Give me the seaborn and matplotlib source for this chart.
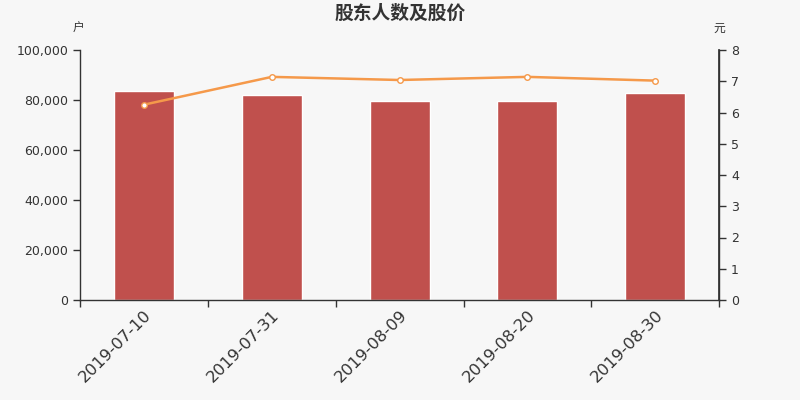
import matplotlib
matplotlib.use("Agg")
import matplotlib.pyplot as plt
import seaborn as sns
import pandas as pd
from matplotlib.ticker import FuncFormatter, FixedLocator

dates = ["2019-07-10", "2019-07-31", "2019-08-09", "2019-08-20", "2019-08-30"]
holders = [83600, 82100, 79600, 79450, 82800]
prices = [6.25, 7.14, 7.04, 7.14, 7.02]

bg = "#f7f7f7"
sns.set_theme(style="white")
plt.rcParams["font.family"] = ["DejaVu Sans", "Noto Sans CJK SC"]

fig = plt.figure(figsize=(8, 4), dpi=100, facecolor=bg)
ax = fig.add_axes([0.1, 0.25, 0.799, 0.625])
ax.set_facecolor(bg)

df = pd.DataFrame({"date": dates, "holders": holders, "price": prices})
sns.barplot(data=df, x="date", y="holders", color="#c0504d", saturation=1,
            width=0.47, ax=ax)
ax.set_ylim(0, 100000)
ax.set_xlim(-0.5, len(dates) - 0.5)
ax.set_yticks([0, 20000, 40000, 60000, 80000, 100000])
ax.yaxis.set_major_formatter(FuncFormatter(lambda v, p: f"{int(v):,}"))
ax.set_xlabel("")
ax.set_ylabel("")

ax.spines["top"].set_visible(False)
for s in ["left", "bottom", "right"]:
    ax.spines[s].set_color("#333333")
    ax.spines[s].set_linewidth(1)

ax.tick_params(axis="y", which="major", length=5, width=1, color="#333333",
               labelsize=9, labelcolor="#333333", left=True, direction="out")
ax.tick_params(axis="x", which="major", length=0, labelsize=11.8,
               labelcolor="#333333", pad=5)
ax.xaxis.set_minor_locator(FixedLocator([i - 0.5 for i in range(len(dates) + 1)]))
ax.tick_params(axis="x", which="minor", length=5, width=1, color="#333333",
               bottom=True, direction="out")
plt.setp(ax.get_xticklabels(), rotation=45, ha="right", rotation_mode="anchor")

ax2 = ax.twinx()
sns.lineplot(data=df, x="date", y="price", ax=ax2, color="#f5994a",
             linewidth=1.8, marker="o", markersize=4,
             markerfacecolor="white", markeredgecolor="#f5994a",
             markeredgewidth=1)
ax2.set_ylim(0, 8)
ax2.set_yticks(range(0, 9))
ax2.set_xlim(-0.5, len(dates) - 0.5)
ax2.set_ylabel("")
ax2.set_xlabel("")
for s in ["top", "left", "bottom"]:
    ax2.spines[s].set_visible(False)
ax2.spines["right"].set_color("#333333")
ax2.tick_params(axis="y", length=5, width=1, color="#333333", labelsize=9,
                labelcolor="#333333", right=True, direction="out")

fig.text(0.5, 0.967, "股东人数及股价", ha="center", va="center",
         fontsize=13.5, fontweight="bold", color="#333333",
         family=["Noto Sans CJK SC", "DejaVu Sans"])
fig.text(0.098, 0.93, "户", ha="center", va="center", fontsize=8.5, color="#333333",
         family=["Noto Sans CJK SC", "DejaVu Sans"])
fig.text(0.899, 0.928, "元", ha="center", va="center", fontsize=8.5, color="#333333",
         family=["Noto Sans CJK SC", "DejaVu Sans"])

fig.savefig("out.png", dpi=100, facecolor=bg)
